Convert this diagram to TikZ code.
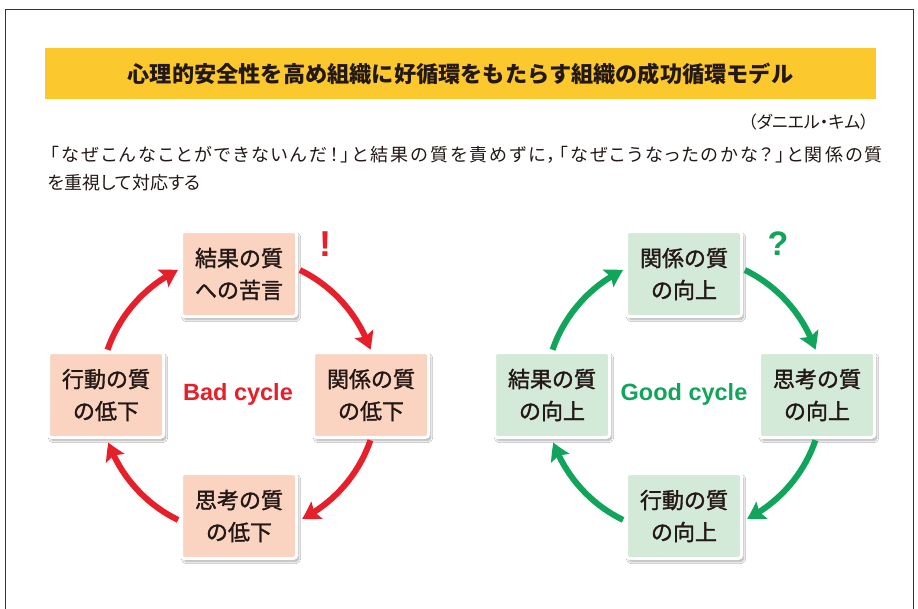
\documentclass[tikz,border=0pt]{standalone}
\usepackage{fontspec}
\setmainfont{Noto Sans CJK JP}
\newfontfamily\palfont[RawFeature=+palt]{Noto Sans CJK JP}
\newfontfamily\palwide[RawFeature=+palt,LetterSpace=12.5]{Noto Sans CJK JP}
\newfontfamily\boxfont[FakeBold=1.5]{Noto Sans CJK JP}
\newfontfamily\latinb{Liberation Sans}
\usetikzlibrary{arrows.meta,bending,shadows.blur,calc}
\definecolor{banner}{HTML}{FBC92D}
\definecolor{peach}{HTML}{FAD4C0}
\definecolor{mint}{HTML}{D4EAD8}
\definecolor{badred}{HTML}{E61F2A}
\definecolor{goodgreen}{HTML}{10A55A}
\definecolor{ink}{HTML}{231815}
\tikzset{
  qbox/.style={draw=white, line width=3pt, rounded corners=3pt,
    minimum width=115pt, minimum height=85pt, align=center, text=ink,
    font=\boxfont\fontsize{22}{32}\selectfont,
    blur shadow={shadow xshift=2pt, shadow yshift=-3pt, shadow blur steps=8, shadow opacity=35}},
  badbox/.style={qbox, fill=peach},
  goodbox/.style={qbox, fill=mint},
  cyc/.style={line width=6pt, -{Stealth[length=17pt,width=20pt,inset=3pt,bend]}},
  badarr/.style={cyc, draw=badred},
  goodarr/.style={cyc, draw=goodgreen},
}
\begin{document}
\begin{tikzpicture}[x=1pt,y=-1pt]
\useasboundingbox (0,0) rectangle (918,608);
\fill[white] (0,0) rectangle (918,608);
\draw[line width=1pt, draw=black!80] (5,612) -- (5,9) -- (913,9) -- (913,612);
% banner
\node[fill=banner, minimum width=831pt, minimum height=51pt, inner sep=0pt] (banner) at (460.5,73.5) {};
\node[font=\fontsize{22.2}{24}\selectfont\bfseries, text=ink] (title) at (banner.center) {心理的安全性を高め組織に好循環をもたらす組織の成功循環モデル};
\node[anchor=east, font=\palfont\fontsize{17}{20}\selectfont, text=ink, inner sep=0pt] (author) at (869,122) {（ダニエル・キム）};
\node[anchor=west, font=\palwide\fontsize{18}{22}\selectfont, text=ink, inner sep=0pt] (line1) at (50,155) {「なぜこんなことができないんだ！」と結果の質を責めずに，「なぜこうなったのかな？」と関係の質};
\node[anchor=west, font=\palfont\fontsize{18}{22}\selectfont, text=ink, inner sep=0pt] (line2) at (48,183) {を重視して対応する};
% bad cycle
\coordinate (bc) at (239,395);
\node[badbox] (bt) at (239,274) {結果の質\\への苦言};
\node[badbox] (br) at (371,395) {関係の質\\の低下};
\node[badbox] (bb) at (239,516) {思考の質\\の低下};
\node[badbox] (bl) at (106,395) {行動の質\\の低下};
\node[font=\latinb\bfseries\fontsize{23.5}{26}\selectfont, text=badred] (badlbl) at (238,394) {Bad cycle};
\node[font=\latinb\bfseries\fontsize{36}{38}\selectfont, text=badred] (excl) at (325,244) {!};
\draw[badarr] ($(bc)+(-64:139)$) arc[start angle=-64, end angle=-19, radius=139];
\draw[badarr] ($(bc)+(19:139)$) arc[start angle=19, end angle=63, radius=139];
\draw[badarr] ($(bc)+(116:139)$) arc[start angle=116, end angle=160, radius=139];
\draw[badarr] ($(bc)+(-161:139)$) arc[start angle=-161, end angle=-116, radius=139];
% good cycle
\coordinate (gc) at (684,395);
\node[goodbox] (gt) at (684,274) {関係の質\\の向上};
\node[goodbox] (gr) at (817,395) {思考の質\\の向上};
\node[goodbox] (gb) at (684,516) {行動の質\\の向上};
\node[goodbox] (gl) at (552,395) {結果の質\\の向上};
\node[font=\latinb\bfseries\fontsize{23.5}{26}\selectfont, text=goodgreen] (goodlbl) at (684,394) {Good cycle};
\node[font=\latinb\bfseries\fontsize{34}{36}\selectfont, text=goodgreen] (ques) at (778,244) {?};
\draw[goodarr] ($(gc)+(-64:139)$) arc[start angle=-64, end angle=-19, radius=139];
\draw[goodarr] ($(gc)+(19:139)$) arc[start angle=19, end angle=63, radius=139];
\draw[goodarr] ($(gc)+(116:139)$) arc[start angle=116, end angle=160, radius=139];
\draw[goodarr] ($(gc)+(-161:139)$) arc[start angle=-161, end angle=-116, radius=139];
\end{tikzpicture}
\end{document}
